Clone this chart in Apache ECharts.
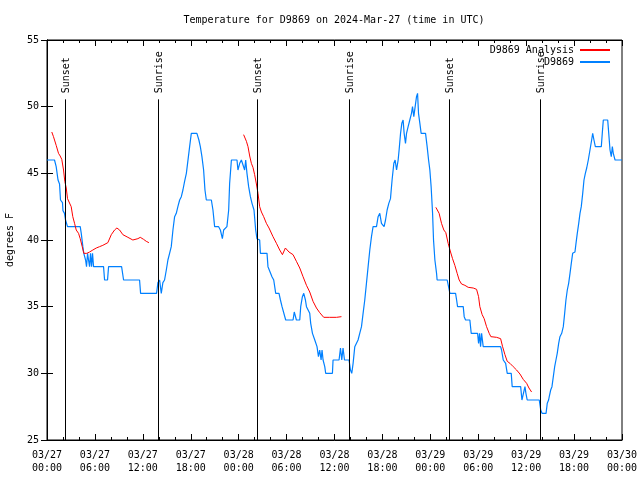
<!DOCTYPE html>
<html><head><meta charset="utf-8">
<script src="https://cdn.jsdelivr.net/npm/echarts@6/dist/echarts.min.js"></script>
<style>html,body{margin:0;padding:0;background:#fff}#c{width:640px;height:480px}</style>
</head><body><div id="c"></div>
<script>
// hours since 2024-03-27 00:00 UTC, temperature (F)
const observed = [
[0,46],[0.94,46],[1.15,45.5],[1.38,44.5],[1.57,44.2],[1.69,43],[1.94,42.8],[2.0,42.2],[2.19,42],[2.32,41.5],[2.57,41],[4.16,41],[4.29,40.5],[4.49,39.5],[4.61,39],[4.83,38.5],[4.95,38],[5.08,39],[5.2,38.5],[5.33,38],[5.45,39],[5.58,38],[5.7,39],[5.83,38],[7.08,38],[7.21,37],[7.58,37],[7.71,38],[9.34,38],[9.59,37],[11.59,37],[11.72,36],[13.72,36],[13.89,36.8],
[14.1,37],[14.31,36],[14.51,36.8],[14.72,37],[14.94,37.75],[15.14,38.5],[15.35,39],[15.56,39.5],[15.77,40.75],[15.98,41.75],[16.19,42],[16.39,42.5],[16.61,43],[16.82,43.25],[17.02,43.75],[17.23,44.4],[17.45,45],[17.65,45.1],[17.86,47],[18.07,48],[18.77,48],[19.02,47.5],[19.2,47],[19.4,46.25],[19.61,45.25],[19.78,43.75],[19.95,43],[20.58,43],[20.78,42.25],[20.99,41],[21.49,41],[21.71,40.75],[21.96,40.1],[22.12,40.75],[22.53,41],[22.75,42.25],[22.87,44.25],[23.09,46],[23.79,46],[23.91,45.25],[24.13,45.75],[24.34,46],[24.54,46],[24.75,45.25],[24.88,46],[25.04,45],[25.25,44],[25.47,43.25],[25.67,42.75],[25.92,42.25],[26.13,40.75],[26.29,40.1],
[26.63,40],[26.72,39],[27.55,39],[27.67,38],[28.17,37.25],[28.39,37],[28.64,36],[29.05,36],[29.23,35.5],[29.43,35],[29.89,34],[30.81,34],[30.96,34.6],[31.11,34.75],[31.23,34],[31.65,34],[31.77,35],[31.98,35.75],[32.15,36],[32.36,35.5],[32.49,35],[32.69,35],[32.9,34.5],[33.02,33.75],[33.24,33],[33.53,32.5],[33.81,32],[33.99,31.25],[34.15,31.75],[34.32,31],[34.44,31.75],[34.57,31],[34.78,30.5],[34.9,30],[35.74,30],[35.82,31],[36.57,31],[36.75,31.9],[36.91,31],[37.07,31.9],[37.25,31],[37.82,31],
[38.0,30.25],[38.16,30],[38.33,30.75],[38.54,32],[38.75,32.1],[38.95,32.5],[39.16,33],[39.38,33.5],[39.58,34.5],[39.79,35.5],[40.0,36.75],[40.21,38],[40.42,39.25],[40.63,40.25],[40.83,41],[41.26,41],[41.46,41.75],[41.67,42],[41.88,41.25],[42.21,41],[42.39,41.5],[42.59,42.25],[42.8,42.75],[43.01,43.1],[43.21,44.5],[43.43,45.75],[43.59,46],[43.77,45.25],[43.97,46],[44.09,46.75],[44.27,48],[44.43,48.75],[44.59,49],[44.72,48],[44.89,47.25],[45.02,48],[45.22,48.5],[45.43,49],[45.64,49.5],[45.77,50],[45.93,49.25],[46.1,50],[46.27,50.75],[46.4,51],[46.52,49.5],[46.69,48.75],[46.85,48],[47.4,48],[47.6,47],[47.78,46],[47.94,45.25],[48.1,44],[48.28,42],[48.4,40],[48.57,38.5],[48.78,37.5],[48.85,37],
[50.11,37],[50.28,36.5],[50.45,36],[51.16,36],[51.29,35.5],[51.41,35],[52.12,35],[52.24,34.25],[52.41,34],[52.95,34],[53.12,33],[53.92,33],[54.04,32.25],[54.17,33],[54.29,32],[54.42,33],[54.62,32],[56.8,32],[56.92,31.75],[57.13,31],[57.43,30.75],[57.63,30],[58.13,30],[58.25,29],[59.31,29],[59.47,28],[59.72,28],[59.85,29],[59.97,28.5],[60.13,28],[61.64,28],[61.82,27.25],[61.99,27],[62.49,27],[62.64,27.75],[62.81,28],[62.89,28.25],[63.07,28.75],[63.23,29],[63.4,29.75],[63.57,30.5],[63.73,31],[63.89,31.5],[64.07,32.25],[64.23,32.75],[64.45,33],[64.65,33.5],[64.82,34.5],[64.98,35.5],[65.15,36.25],[65.32,36.75],[65.49,37.5],[65.65,38.25],[65.82,39],[66.11,39.1],[66.24,39.75],[66.4,40.5],[66.58,41.25],[66.74,42],[66.9,42.5],[67.08,43.5],[67.24,44.5],[67.41,45],[67.58,45.4],[67.78,46],[67.99,46.75],[68.2,47.5],[68.33,48],[68.49,47.5],[68.66,47],[69.41,47],[69.53,48],[69.66,49],[70.21,49],[70.34,48],[70.5,46.75],[70.66,46.25],[70.79,47],[70.91,46.5],[71.13,46],[72,46]
];
const analysisA = [[0.6,48.1],[0.81,47.75],[1.15,47.1],[1.44,46.5],[1.65,46.3],[1.85,46.05],[2.07,45.25],[2.23,44.4],[2.41,43.9],[2.57,43.1],[2.82,43],[3.03,42.5],[3.23,41.75],[3.45,41.25],[3.66,40.75],[3.95,40.5],[4.16,40.1],[4.41,39.5],[4.61,39],[4.99,39],[5.33,39.1],[5.74,39.25],[6.17,39.4],[6.58,39.5],[6.99,39.6],[7.62,39.8],[8.05,40.4],[8.46,40.75],[8.75,40.9],[9.09,40.75],[9.5,40.4],[10.13,40.2],[10.75,40],[11.38,40.1],[11.68,40.2],[12.09,40.05],[12.43,39.9],[12.76,39.8]];
const analysisB = [[24.62,47.9],[24.75,48],[24.97,47.4],[25.17,47],[25.38,46.3],[25.59,45.75],[25.79,45.45],[26.0,44.9],[26.22,44.2],[26.42,43.5],[26.63,42.5],[26.85,42.1],[27.13,41.75],[27.47,41.25],[27.8,40.9],[28.3,40.25],[28.73,39.75],[29.14,39.25],[29.48,38.9],[29.64,38.75],[29.85,39.4],[30.3,39.1],[30.81,38.9],[31.23,38.4],[31.65,37.9],[32.06,37.25],[32.49,36.6],[32.9,36.1],[33.31,35.4],[33.74,34.9],[34.15,34.55],[34.65,34.2],[35.4,34.2],[36.25,34.2],[36.32,34.25],[36.87,34.25]];
const analysisC = [[48.69,42.45],[48.85,42.55],[49.1,42],[49.4,41.25],[49.69,40.75],[49.94,40.55],[50.23,39.75],[50.53,39.1],[50.78,38.6],[51.07,38.1],[51.36,37.5],[51.61,37],[51.91,36.7],[52.33,36.6],[52.74,36.45],[53.37,36.4],[53.79,36.3],[54.04,35.75],[54.2,35],[54.49,34.4],[54.74,34.1],[55.04,33.5],[55.37,33],[55.58,32.75],[56.3,32.7],[56.8,32.6],[57.05,32],[57.34,31.4],[57.63,30.9],[57.97,30.75],[58.38,30.5],[58.8,30.25],[59.22,29.95],[59.63,29.55],[60.06,29.25],[60.35,28.9],[60.68,28.6]];
const sunNames = ['Sunset','Sunrise','Sunset','Sunrise','Sunset','Sunrise'];
const sunHours = [2.23, 13.89, 26.32, 37.82, 50.36, 61.79];
const yTicks = [25, 30, 35, 40, 45, 50, 55];
const startDay = 27;

const FONT = 'DejaVu Sans Mono';
const analysis = analysisA.concat([[null, null]], analysisB, [[null, null]], analysisC);

function timeLabel(h) {
  const d = startDay + Math.floor(h / 24);
  const hh = Math.round(h % 24);
  return '03/' + d + '\n' + String(hh).padStart(2, '0') + ':00';
}

const xCommon = {
  type: 'value', min: 0, max: 72, interval: 6,
  axisLine: { show: true, lineStyle: { color: '#000', width: 1 } },
  axisTick: { show: true, inside: true, length: 6, lineStyle: { color: '#000' } },
  minorTick: { show: true, splitNumber: 3, length: 3, lineStyle: { color: '#000' } },
  splitLine: { show: false }
};
const yCommon = {
  type: 'value', min: yTicks[0], max: yTicks[yTicks.length - 1], interval: 5,
  axisLine: { show: true, lineStyle: { color: '#000', width: 1 } },
  axisTick: { show: true, inside: true, length: 6, lineStyle: { color: '#000' } },
  splitLine: { show: false }
};
const legendCommon = {
  right: 30, align: 'right', itemWidth: 30, itemHeight: 2, itemGap: 0, padding: 0,
  icon: 'rect', textStyle: { fontFamily: FONT, fontSize: 10, color: '#000', padding: [0, 1, 0, 0] }
};

const chart = echarts.init(document.getElementById('c'), null, { renderer: 'canvas' });
chart.setOption({
  animation: false,
  backgroundColor: '#fff',
  title: {
    text: 'Temperature for D9869 on 2024-Mar-27 (time in UTC)',
    left: 334, textAlign: 'center', top: 15, padding: 0,
    textStyle: { fontFamily: FONT, fontSize: 10, fontWeight: 'normal', color: '#000' }
  },
  legend: [
    Object.assign({ data: ['D9869 Analysis'], top: 45 }, legendCommon),
    Object.assign({ data: ['D9869'], top: 57 }, legendCommon)
  ],
  grid: { left: 47, right: 18, top: 40, bottom: 40, containLabel: false, outerBoundsMode: 'none',
    show: true, borderColor: '#000', borderWidth: 1 },
  xAxis: [
    Object.assign({}, xCommon, { position: 'bottom',
      axisLabel: { margin: 9, fontFamily: FONT, fontSize: 10, color: '#000', lineHeight: 13,
        formatter: v => timeLabel(v) } }),
    Object.assign({}, xCommon, { position: 'top', axisLabel: { show: false } })
  ],
  yAxis: [
    Object.assign({}, yCommon, { position: 'left', name: 'degrees F', nameLocation: 'middle', nameRotate: 90, nameGap: 32,
      nameTextStyle: { fontFamily: FONT, fontSize: 10, color: '#000' },
      axisLabel: { margin: 8, fontFamily: FONT, fontSize: 10, color: '#000' } }),
    Object.assign({}, yCommon, { position: 'right', axisLabel: { show: false } })
  ],
  series: [
    {
      name: 'D9869 Analysis', type: 'line', data: analysis, connectNulls: false,
      showSymbol: false, symbol: 'none', color: '#ff0000',
      lineStyle: { color: '#ff0000', width: 1 }, z: 3
    },
    {
      name: 'D9869', type: 'line', data: observed,
      showSymbol: false, symbol: 'none', color: '#0080ff',
      lineStyle: { color: '#0080ff', width: 1.2 }, z: 2
    },
    {
      type: 'custom', data: sunHours.map(h => [h]), z: 4, silent: true,
      renderItem: function (params, api) {
        const h = api.value(0);
        const p0 = api.coord([h, 25]);
        const p1 = api.coord([h, 50.55]);
        const x = Math.round(p0[0]) + 0.5;
        return {
          type: 'group',
          children: [
            { type: 'line', shape: { x1: x, y1: p0[1], x2: x, y2: p1[1] },
              style: { stroke: '#000', lineWidth: 1 } },
            { type: 'text', x: x + 0.5, y: p1[1] - 6, rotation: Math.PI / 2,
              style: { text: sunNames[params.dataIndex], align: 'left', verticalAlign: 'middle',
                font: '10px ' + FONT, fill: '#000' } }
          ]
        };
      }
    }
  ]
});
</script>
</body></html>
